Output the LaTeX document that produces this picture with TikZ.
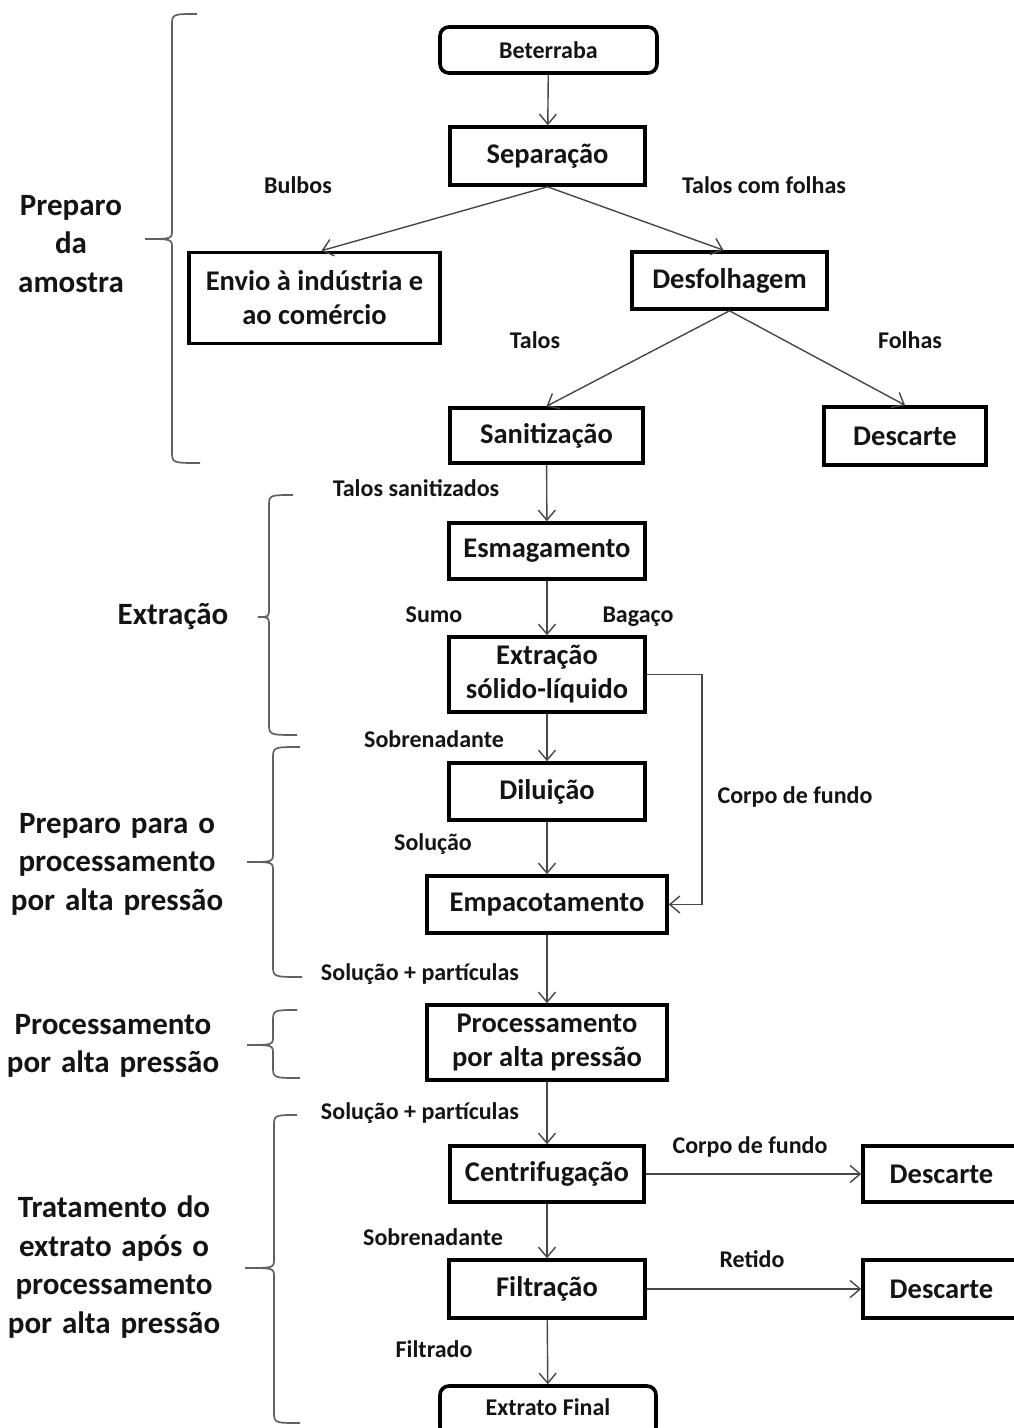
\documentclass[tikz,border=0pt]{standalone}
\usepackage{fontspec}
\setmainfont{Carlito}
\newfontfamily\sidefam{Carlito}[WordSpace=1.4]
\usetikzlibrary{arrows.meta,calc}
\newcommand\boxfont{\bfseries\fontsize{28.5}{34}\selectfont}
\newcommand\smallboxfont{\bfseries\fontsize{24}{28}\selectfont}
\newcommand\lblfont{\bfseries\fontsize{24}{27}\selectfont}
\newcommand\sidefont{\sidefam\bfseries\fontsize{31}{38.5}\selectfont}
\newcommand\sidebrace[7]{%
  \draw[bracestyle] (#1,#2) .. controls (#3,#2) .. (#3,#2+12) -- (#3,#5-9)
    .. controls (#3,#5) .. (#4,#5) .. controls (#3,#5) .. (#3,#5+9)
    -- (#3,#6-12) .. controls (#3,#6) .. (#7,#6);}
\tikzset{
  box/.style={draw=black, line width=3.6pt, inner sep=0pt, font=\boxfont, align=center, text=black!92},
  rbox/.style={box, rounded corners=9pt, font=\smallboxfont},
  lbl/.style={inner sep=0pt, font=\lblfont, text=black!92, text height=16pt, text depth=0pt},
  side/.style={inner sep=0pt, font=\sidefont, align=center, text=black!92},
  arr/.style={draw=black!72, line width=1.4pt, -{Straight Barb[length=10pt,width=17pt,line width=1.4pt]}},
  bracestyle/.style={draw=black!62, line width=1.7pt},
}
\begin{document}
\begin{tikzpicture}[x=1pt,y=-1pt]
\useasboundingbox (0,0) rectangle (1014,1428);
\clip (0,0) rectangle (1014,1428);
\fill[white] (0,0) rectangle (1014,1428);

% boxes
\node[rbox, minimum width=217pt, minimum height=46pt] (bet) at (548.5,50) {Beterraba};
\node[box, minimum width=195pt, minimum height=58pt] (sep) at (547.5,156) {Separação};
\node[box, minimum width=251pt, minimum height=91pt] (env) at (314.5,298) {Envio à indústria e\\ao comércio};
\node[box, minimum width=195pt, minimum height=57pt] (desf) at (729.5,280.5) {Desfolhagem};
\node[box, minimum width=193pt, minimum height=55pt] (san) at (546.5,435.5) {Sanitização};
\node[box, minimum width=162pt, minimum height=58pt] (dsc1) at (905,436) {Descarte};
\node[box, minimum width=196pt, minimum height=56pt] (esm) at (547,551) {Esmagamento};
\node[box, minimum width=196pt, minimum height=75pt] (ext) at (547,674.5) {Extração\\sólido-líquido};
\node[box, minimum width=196pt, minimum height=57pt] (dil) at (547,791.5) {Diluição};
\node[box, minimum width=240pt, minimum height=57pt] (emp) at (547,904.5) {Empacotamento};
\node[box, minimum width=240pt, minimum height=75pt] (proc) at (547,1042.5) {Processamento\\por alta pressão};
\node[box, minimum width=194pt, minimum height=56pt] (cen) at (547,1174) {Centrifugação};
\node[box, minimum width=157pt, minimum height=56pt] (dsc2) at (941.5,1174) {Descarte};
\node[box, minimum width=196pt, minimum height=58pt] (fil) at (547,1289) {Filtração};
\node[box, minimum width=157pt, minimum height=58pt] (dsc3) at (941.5,1289) {Descarte};
\node[rbox, minimum width=216pt, minimum height=50pt, text depth=0pt] (fin) at (548,1411) {\raisebox{7pt}{Extrato Final}};

% connectors
\draw[arr] (bet) -- (sep);
\draw[arr] (sep.south) -- ($(env.north)+(7,0)$);
\draw[arr] (sep.south) -- ($(desf.north)+(-6,0)$);
\draw[arr] (desf.south) -- (san.north);
\draw[arr] (desf.south) -- (dsc1.north);
\draw[arr] (san) -- (esm);
\draw[arr] (esm) -- (ext);
\draw[arr] (ext) -- (dil);
\draw[arr] (dil) -- (emp);
\draw[arr] (emp) -- (proc);
\draw[arr] (proc) -- (cen);
\draw[arr] (cen) -- (fil);
\draw[arr] (fil) -- (fin);
\draw[arr] (cen) -- (dsc2);
\draw[arr] (fil) -- (dsc3);
\coordinate (cfx) at (702,0);
\draw[arr] (ext.east) -- (ext.east -| cfx) -- (cfx |- emp.east) -- (emp.east);

% labels
\node[lbl] (lbulb) at (298,185) {Bulbos};
\node[lbl] (ltcf) at (764,185) {Talos com folhas};
\node[lbl] (ltal) at (535,340) {Talos};
\node[lbl] (lfol) at (910,340) {Folhas};
\node[lbl] (ltsan) at (416,488) {Talos sanitizados};
\node[lbl] (lsumo) at (434,614) {Sumo};
\node[lbl] (lbag) at (638,614) {Bagaço};
\node[lbl] (lsob1) at (434,739) {Sobrenadante};
\node[lbl] (lcf1) at (795,795) {Corpo de fundo};
\node[lbl] (lsol) at (433,842) {Solução};
\node[lbl] (lsp1) at (420,972) {Solução + partículas};
\node[lbl] (lsp2) at (420,1111) {Solução + partículas};
\node[lbl] (lcf2) at (750,1145) {Corpo de fundo};
\node[lbl] (lsob2) at (433,1237) {Sobrenadante};
\node[lbl] (lret) at (752,1259) {Retido};
\node[lbl] (lfilt) at (434,1349) {Filtrado};

% side labels
\node[side] (s1) at (71,244) {Preparo\\da\\amostra};
\node[side] (s2) at (173,617) {Extração};
\node[side] (s3) at (117,864) {Preparo para o\\processamento\\por alta pressão};
\node[side] (s4) at (113,1046) {Processamento\\por alta pressão};
\node[side] (s5) at (114,1267) {Tratamento do\\extrato após o\\processamento\\por alta pressão};

% braces
\sidebrace{197}{14}{172}{145}{239}{463}{200}
\sidebrace{293}{495}{269}{258}{617}{735}{297}
\sidebrace{300}{747}{273}{247}{862}{977}{302}
\sidebrace{297}{1010}{273}{247}{1045}{1078}{300}
\sidebrace{297}{1115}{274}{245}{1268}{1423}{300}
\end{tikzpicture}
\end{document}
